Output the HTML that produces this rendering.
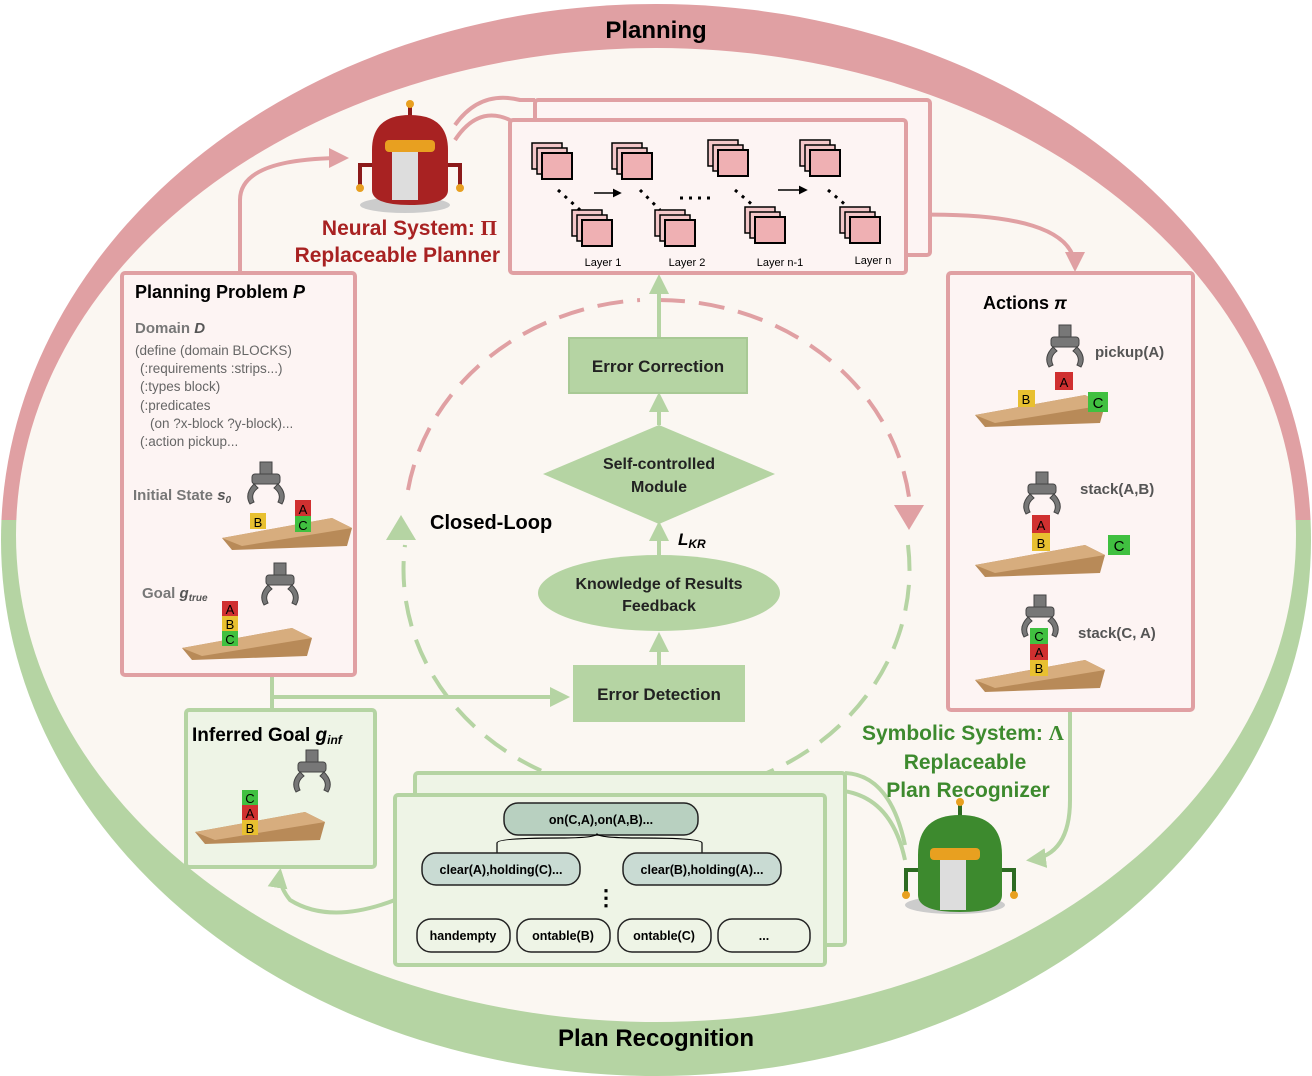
<!DOCTYPE html>
<html><head><meta charset="utf-8"><style>
html,body{margin:0;padding:0;background:#fff}
svg{display:block;font-family:"Liberation Sans",Arial,sans-serif}
</style></head><body>
<svg width="1312" height="1076" viewBox="0 0 1312 1076" xmlns="http://www.w3.org/2000/svg">
<defs>
<clipPath id="top"><rect x="0" y="0" width="1312" height="520"/></clipPath>
<clipPath id="bot"><rect x="0" y="520" width="1312" height="560"/></clipPath>
<marker id="ap" viewBox="0 0 10 10" refX="8" refY="5" markerWidth="5" markerHeight="5" orient="auto"><path d="M0,0L10,5L0,10z" fill="#e0a0a3"/></marker>
<marker id="ag" viewBox="0 0 10 10" refX="8" refY="5" markerWidth="5" markerHeight="5" orient="auto"><path d="M0,0L10,5L0,10z" fill="#b5d4a3"/></marker>
<marker id="ak" viewBox="0 0 10 10" refX="8" refY="5" markerWidth="6" markerHeight="6" orient="auto"><path d="M0,0L10,5L0,10z" fill="#000"/></marker>
<g id="stack"><rect x="0" y="0" width="30" height="26" fill="#f3c6c8" stroke="#000" stroke-width="1.5"/><rect x="5" y="5" width="30" height="26" fill="#f3c6c8" stroke="#000" stroke-width="1.5"/><rect x="10" y="10" width="30" height="26" fill="#efb0b3" stroke="#000" stroke-width="2"/></g>
<g id="grip" fill="#777" stroke="#444" stroke-width="1"><rect x="-6" y="-20" width="12" height="14"/><rect x="-14" y="-8" width="28" height="10" rx="3"/><path d="M-12,2 q-10,10 -4,20 l4,-2 q-4,-8 4,-14z"/><path d="M12,2 q10,10 4,20 l-4,-2 q4,-8 -4,-14z"/></g>
<g id="table"><path d="M0,20 L110,0 L130,10 L125,28 L10,32z" fill="#b88a58"/><path d="M0,20 L110,0 L130,10 L20,28z" fill="#d7ad7e"/></g>
</defs>

<g clip-path="url(#top)"><ellipse cx="656" cy="540" rx="655" ry="536" fill="#e0a0a3"/></g>
<g clip-path="url(#bot)"><ellipse cx="656" cy="540" rx="655" ry="536" fill="#b5d4a3"/></g>
<ellipse cx="656" cy="535" rx="640" ry="487" fill="#fbf7f2"/>
<text x="656" y="38" font-size="24" font-weight="bold" text-anchor="middle">Planning</text>
<text x="656" y="1046" font-size="24" font-weight="bold" text-anchor="middle">Plan Recognition</text>

<g fill="none" stroke-width="4" stroke-dasharray="26,14">
<path d="M659,300 A253,226 0 0 1 910,505" stroke="#e0a0a3"/>
<path d="M908,545 A253,226 0 1 1 405,545" stroke="#b5d4a3"/>
<path d="M408,490 A253,226 0 0 1 640,300" stroke="#e0a0a3"/>
</g>
<path d="M894,505 L924,505 L909,530z" fill="#e0a0a3"/>
<path d="M386,540 L416,540 L401,515z" fill="#b5d4a3"/>
<text x="430" y="529" font-size="20" font-weight="bold">Closed-Loop</text>

<g stroke="#b5d4a3" stroke-width="4" fill="none" marker-end="url(#ag)">
<line x1="659" y1="665" x2="659" y2="636"/>
<line x1="659" y1="555" x2="659" y2="525"/>
<line x1="659" y1="425" x2="659" y2="396"/>
<line x1="659" y1="338" x2="659" y2="278"/>
</g>
<rect x="569" y="338" width="178" height="55" fill="#b5d4a3" stroke="#a8c995" stroke-width="2"/>
<text x="658" y="372" font-size="17" font-weight="bold" text-anchor="middle" fill="#222">Error Correction</text>
<path d="M659,425 L775,474 L659,524 L543,474z" fill="#b5d4a3"/>
<text x="659" y="469" font-size="16" font-weight="bold" text-anchor="middle" fill="#222">Self-controlled</text>
<text x="659" y="492" font-size="16" font-weight="bold" text-anchor="middle" fill="#222">Module</text>
<text x="678" y="545" font-size="17" font-weight="bold" font-style="italic">L<tspan font-size="12" dy="3">KR</tspan></text>
<ellipse cx="659" cy="593" rx="121" ry="38" fill="#b5d4a3"/>
<text x="659" y="589" font-size="16" font-weight="bold" text-anchor="middle" fill="#222">Knowledge of Results</text>
<text x="659" y="611" font-size="16" font-weight="bold" text-anchor="middle" fill="#222">Feedback</text>
<rect x="573" y="665" width="172" height="57" fill="#b5d4a3"/>
<text x="659" y="700" font-size="17" font-weight="bold" text-anchor="middle" fill="#222">Error Detection</text>

<g fill="none" stroke-width="4">
<path d="M240,273 L240,200 Q240,158 345,158" stroke="#e0a0a3" marker-end="url(#ap)"/>
<path d="M455,125 Q480,90 520,100 L535,100" stroke="#e0a0a3"/>
<path d="M455,140 Q478,105 510,120" stroke="#e0a0a3"/>
<path d="M906,215 Q1075,210 1075,268" stroke="#e0a0a3" marker-end="url(#ap)"/>
<path d="M272,675 L272,710" stroke="#b5d4a3"/>
<path d="M272,697 L566,697" stroke="#b5d4a3" marker-end="url(#ag)"/>
<path d="M1070,710 L1070,800 Q1070,855 1030,860" stroke="#b5d4a3" marker-end="url(#ag)"/>
<path d="M905,860 Q890,790 830,790" stroke="#b5d4a3"/>
<path d="M905,845 Q890,775 845,773" stroke="#b5d4a3"/>
<path d="M395,900 Q330,925 290,900 Q278,885 280,872" stroke="#b5d4a3" marker-end="url(#ag)"/>
</g>

<rect x="535" y="100" width="395" height="155" fill="#fdf4f3" stroke="#e0a0a3" stroke-width="4" rx="3"/>
<rect x="510" y="120" width="396" height="153" fill="#fdf4f3" stroke="#e0a0a3" stroke-width="4" rx="3"/>
<use href="#stack" x="532" y="143"/>
<use href="#stack" x="612" y="143"/>
<use href="#stack" x="708" y="140"/>
<use href="#stack" x="800" y="140"/>
<use href="#stack" x="572" y="210"/>
<use href="#stack" x="655" y="210"/>
<use href="#stack" x="745" y="207"/>
<use href="#stack" x="840" y="207"/>
<g stroke="#000" stroke-width="3" stroke-dasharray="3,6" fill="none">
<line x1="558" y1="190" x2="580" y2="210"/><line x1="640" y1="190" x2="660" y2="210"/>
<line x1="735" y1="190" x2="755" y2="207"/><line x1="828" y1="190" x2="848" y2="207"/>
<line x1="680" y1="198" x2="710" y2="198"/>
</g>
<line x1="594" y1="193" x2="620" y2="193" stroke="#000" stroke-width="1.5" marker-end="url(#ak)"/>
<line x1="778" y1="190" x2="806" y2="190" stroke="#000" stroke-width="1.5" marker-end="url(#ak)"/>
<g font-size="11" text-anchor="middle"><text x="603" y="266">Layer 1</text><text x="687" y="266">Layer 2</text><text x="780" y="266">Layer n-1</text><text x="873" y="264">Layer n</text></g>

<ellipse cx="405" cy="205" rx="45" ry="8" fill="#ccc"/>
<line x1="410" y1="103" x2="410" y2="118" stroke="#8b1a1a" stroke-width="4"/><circle cx="410" cy="104" r="4" fill="#e8a020"/>
<path d="M372,150 Q372,115 410,115 Q448,115 448,150 L448,190 Q448,205 410,205 Q372,205 372,190z" fill="#a82222"/>
<rect x="392" y="145" width="26" height="55" fill="#ddd"/>
<rect x="385" y="140" width="50" height="12" rx="4" fill="#e8a020"/>
<path d="M372,165 L360,165 L360,185" stroke="#8b1a1a" stroke-width="4" fill="none"/><circle cx="360" cy="188" r="4" fill="#e8a020"/>
<path d="M448,165 L460,165 L460,185" stroke="#8b1a1a" stroke-width="4" fill="none"/><circle cx="460" cy="188" r="4" fill="#e8a020"/>
<text x="497" y="235" font-size="21" font-weight="bold" fill="#a82222" text-anchor="end">Neural System: <tspan font-family="Liberation Serif">Π</tspan></text>
<text x="500" y="262" font-size="21" font-weight="bold" fill="#a82222" text-anchor="end">Replaceable Planner</text>

<rect x="122" y="273" width="233" height="402" fill="#fdf4f3" stroke="#e0a0a3" stroke-width="4" rx="3"/>
<text x="135" y="298" font-size="18" font-weight="bold">Planning Problem <tspan font-style="italic">P</tspan></text>
<text x="135" y="333" font-size="15" font-weight="bold" fill="#777">Domain <tspan font-style="italic" fill="#555">D</tspan></text>
<g font-size="13.5" fill="#666">
<text x="135" y="355">(define (domain BLOCKS)</text>
<text x="140" y="373">(:requirements :strips...)</text>
<text x="140" y="391">(:types block)</text>
<text x="140" y="410">(:predicates</text>
<text x="150" y="428">(on ?x-block ?y-block)...</text>
<text x="140" y="446">(:action pickup...</text>
</g>
<text x="133" y="500" font-size="15" font-weight="bold" fill="#777">Initial State <tspan font-style="italic" fill="#555">s<tspan font-size="10" dy="3">0</tspan></tspan></text>
<use href="#grip" x="266" y="482"/>
<use href="#table" x="222" y="518"/>
<rect x="250" y="513" width="16" height="16" fill="#e8c030"/><text x="258" y="527" font-size="13" text-anchor="middle">B</text>
<rect x="295" y="500" width="16" height="16" fill="#d03030"/><text x="303" y="514" font-size="13" text-anchor="middle">A</text>
<rect x="295" y="516" width="16" height="16" fill="#40c040"/><text x="303" y="530" font-size="13" text-anchor="middle">C</text>
<text x="142" y="598" font-size="15" font-weight="bold" fill="#777">Goal <tspan font-style="italic" fill="#555">g<tspan font-size="10" dy="3">true</tspan></tspan></text>
<use href="#grip" x="280" y="583"/>
<use href="#table" x="182" y="628"/>
<rect x="222" y="601" width="16" height="15" fill="#d03030"/><text x="230" y="614" font-size="13" text-anchor="middle">A</text>
<rect x="222" y="616" width="16" height="15" fill="#e8c030"/><text x="230" y="629" font-size="13" text-anchor="middle">B</text>
<rect x="222" y="631" width="16" height="15" fill="#40c040"/><text x="230" y="644" font-size="13" text-anchor="middle">C</text>

<rect x="948" y="273" width="245" height="437" fill="#fdf4f3" stroke="#e0a0a3" stroke-width="4" rx="3"/>
<text x="983" y="309" font-size="18" font-weight="bold">Actions <tspan font-style="italic">π</tspan></text>
<text x="1095" y="357" font-size="15" font-weight="bold" fill="#555">pickup(A)</text>
<use href="#grip" x="1065" y="345"/>
<rect x="1055" y="372" width="18" height="18" fill="#d03030"/><text x="1064" y="387" font-size="13" text-anchor="middle">A</text>
<use href="#table" x="975" y="395"/>
<rect x="1018" y="390" width="17" height="17" fill="#e8c030"/><text x="1026" y="404" font-size="13" text-anchor="middle">B</text>
<rect x="1088" y="392" width="20" height="20" fill="#40c040"/><text x="1098" y="408" font-size="15" text-anchor="middle">C</text>
<text x="1080" y="494" font-size="15" font-weight="bold" fill="#555">stack(A,B)</text>
<use href="#grip" x="1042" y="492"/>
<use href="#table" x="975" y="545"/>
<rect x="1032" y="515" width="18" height="18" fill="#d03030"/><text x="1041" y="530" font-size="13" text-anchor="middle">A</text>
<rect x="1032" y="533" width="18" height="18" fill="#e8c030"/><text x="1041" y="548" font-size="13" text-anchor="middle">B</text>
<rect x="1108" y="535" width="22" height="20" fill="#40c040"/><text x="1119" y="551" font-size="15" text-anchor="middle">C</text>
<text x="1078" y="638" font-size="15" font-weight="bold" fill="#555">stack(C, A)</text>
<use href="#grip" x="1040" y="615"/>
<use href="#table" x="975" y="660"/>
<rect x="1030" y="628" width="18" height="16" fill="#40c040"/><text x="1039" y="641" font-size="13" text-anchor="middle">C</text>
<rect x="1030" y="644" width="18" height="16" fill="#d03030"/><text x="1039" y="657" font-size="13" text-anchor="middle">A</text>
<rect x="1030" y="660" width="18" height="16" fill="#e8c030"/><text x="1039" y="673" font-size="13" text-anchor="middle">B</text>

<rect x="186" y="710" width="189" height="157" fill="#eef4e6" stroke="#b5d4a3" stroke-width="4" rx="3"/>
<text x="192" y="741" font-size="19" font-weight="bold">Inferred Goal <tspan font-style="italic">g<tspan font-size="12" dy="3">inf</tspan></tspan></text>
<use href="#grip" x="312" y="770"/>
<use href="#table" x="195" y="812"/>
<rect x="242" y="790" width="16" height="15" fill="#40c040"/><text x="250" y="803" font-size="13" text-anchor="middle">C</text>
<rect x="242" y="805" width="16" height="15" fill="#d03030"/><text x="250" y="818" font-size="13" text-anchor="middle">A</text>
<rect x="242" y="820" width="16" height="15" fill="#e8c030"/><text x="250" y="833" font-size="13" text-anchor="middle">B</text>

<rect x="415" y="773" width="430" height="172" fill="#eef4e6" stroke="#b5d4a3" stroke-width="4" rx="3"/>
<rect x="395" y="795" width="430" height="170" fill="#eef4e6" stroke="#b5d4a3" stroke-width="4" rx="3"/>
<rect x="504" y="803" width="194" height="32" rx="14" fill="#b8d0c0" stroke="#222" stroke-width="1.5"/>
<text x="601" y="824" font-size="12.5" font-weight="bold" text-anchor="middle">on(C,A),on(A,B)...</text>
<path d="M497,853 L497,843 Q497,838 560,838 Q595,838 597,834 Q600,838 640,838 Q702,838 702,843 L702,853" fill="none" stroke="#000" stroke-width="1.2"/>
<rect x="422" y="853" width="158" height="32" rx="14" fill="#c9dbd3" stroke="#222" stroke-width="1.5"/>
<text x="501" y="874" font-size="12.5" font-weight="bold" text-anchor="middle">clear(A),holding(C)...</text>
<rect x="623" y="853" width="158" height="32" rx="14" fill="#c9dbd3" stroke="#222" stroke-width="1.5"/>
<text x="702" y="874" font-size="12.5" font-weight="bold" text-anchor="middle">clear(B),holding(A)...</text>
<text x="606" y="905" font-size="22" font-weight="bold" text-anchor="middle">⋮</text>
<g fill="#eef4e6" stroke="#222" stroke-width="1.5">
<rect x="417" y="919" width="93" height="33" rx="14"/><rect x="517" y="919" width="93" height="33" rx="14"/>
<rect x="618" y="919" width="93" height="33" rx="14"/><rect x="718" y="919" width="92" height="33" rx="14"/>
</g>
<g font-size="12.5" font-weight="bold" text-anchor="middle">
<text x="463" y="940">handempty</text><text x="563" y="940">ontable(B)</text><text x="664" y="940">ontable(C)</text><text x="764" y="940">...</text>
</g>

<ellipse cx="955" cy="905" rx="50" ry="9" fill="#ccc"/>
<line x1="960" y1="800" x2="960" y2="818" stroke="#2d6b22" stroke-width="4"/><circle cx="960" cy="802" r="4" fill="#e8a020"/>
<path d="M918,855 Q918,815 960,815 Q1002,815 1002,855 L1002,895 Q1002,912 960,912 Q918,912 918,895z" fill="#3d8a2e"/>
<rect x="940" y="855" width="26" height="55" fill="#ddd"/>
<rect x="930" y="848" width="50" height="12" rx="4" fill="#e8a020"/>
<path d="M918,870 L906,870 L906,892" stroke="#2d6b22" stroke-width="4" fill="none"/><circle cx="906" cy="895" r="4" fill="#e8a020"/>
<path d="M1002,870 L1014,870 L1014,892" stroke="#2d6b22" stroke-width="4" fill="none"/><circle cx="1014" cy="895" r="4" fill="#e8a020"/>
<text x="862" y="740" font-size="21" font-weight="bold" fill="#3d8a2e">Symbolic System: <tspan font-family="Liberation Serif">Λ</tspan></text>
<text x="965" y="769" font-size="21" font-weight="bold" fill="#3d8a2e" text-anchor="middle">Replaceable</text>
<text x="968" y="797" font-size="21" font-weight="bold" fill="#3d8a2e" text-anchor="middle">Plan Recognizer</text>
</svg>
</body></html>
